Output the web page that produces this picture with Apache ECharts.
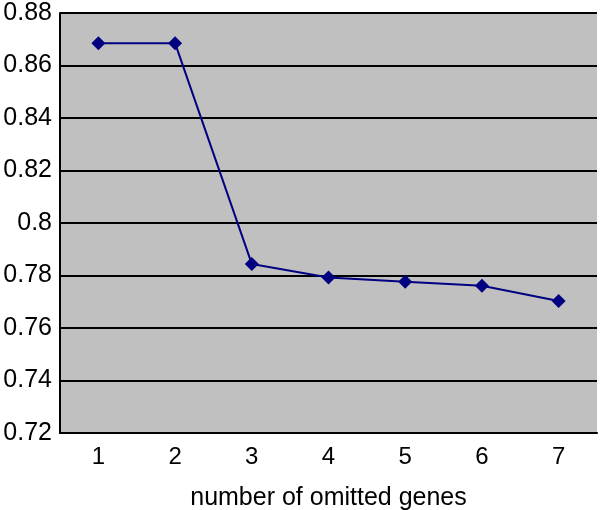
<!DOCTYPE html>
<html><head><meta charset="utf-8">
<script src="https://cdn.jsdelivr.net/npm/echarts@6/dist/echarts.min.js"></script>
<style>html,body{margin:0;padding:0;background:#fff}#c{width:600px;height:510px}</style>
</head><body><div id="c"></div>
<script>
var categories = ['1','2','3','4','5','6','7'];
var values = [0.8685, 0.8685, 0.7844, 0.7792, 0.7776, 0.7761, 0.7703];
var xName = 'number of omitted genes';
var chart = echarts.init(document.getElementById('c'), null, {renderer:'canvas'});
var font = 'Liberation Sans, Arial, sans-serif';
chart.setOption({
  animation:false,
  grid:{left:60,right:3,top:13,bottom:77,show:true,backgroundColor:'#c0c0c0',borderWidth:0,
    containLabel:false,outerBoundsMode:'none'},
  xAxis:{type:'category',data:categories,boundaryGap:true,
    name:xName,nameLocation:'middle',nameGap:53,
    nameTextStyle:{fontFamily:font,fontSize:25,color:'#000'},
    axisLine:{lineStyle:{color:'#000',width:2}},
    axisTick:{inside:true,length:7,lineStyle:{color:'#000',width:2}},
    axisLabel:{fontFamily:font,fontSize:24,color:'#000',margin:12}},
  yAxis:{type:'value',min:0.72,max:0.88,interval:0.02,
    axisLine:{show:true,lineStyle:{color:'#000',width:2}},
    axisTick:{show:true,inside:true,length:7,lineStyle:{color:'#000',width:2}},
    splitLine:{show:true,lineStyle:{color:'#000',width:2}},
    axisLabel:{fontFamily:font,fontSize:25,color:'#000',margin:8,
      formatter:function(v){return String(Math.round(v*100)/100);}}},
  series:[{type:'line',data:values,symbol:'diamond',symbolSize:14,
    itemStyle:{color:'#000080'},lineStyle:{color:'#000080',width:2}}]
});
</script></body></html>
